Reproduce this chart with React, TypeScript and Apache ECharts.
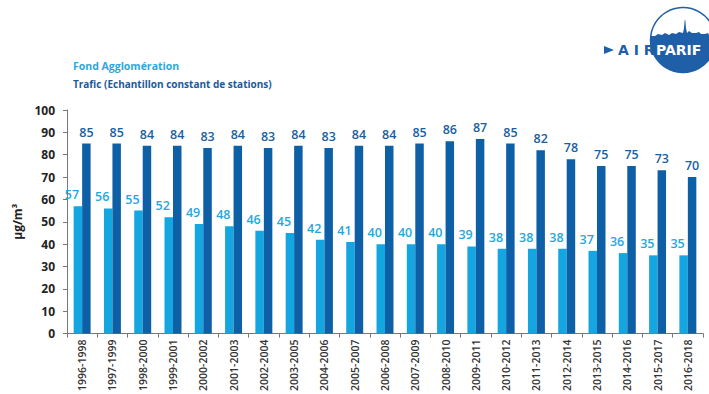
import React, { useEffect, useRef } from "react";
import * as echarts from "echarts";

const categories = [
  "1996-1998", "1997-1999", "1998-2000", "1999-2001", "2000-2002", "2001-2003", "2002-2004",
  "2003-2005", "2004-2006", "2005-2007", "2006-2008", "2007-2009", "2008-2010", "2009-2011",
  "2010-2012", "2011-2013", "2012-2014", "2013-2015", "2014-2016", "2015-2017", "2016-2018",
];
const fondValues = [57, 56, 55, 52, 49, 48, 46, 45, 42, 41, 40, 40, 40, 39, 38, 38, 38, 37, 36, 35, 35];
const traficValues = [85, 85, 84, 84, 83, 84, 83, 84, 83, 84, 84, 85, 86, 87, 85, 82, 78, 75, 75, 73, 70];
const seriesNames = ["Fond Agglomération", "Trafic (Echantillon constant de stations)"];

const LIGHT = "#14a6e0";
const DARK = "#0d5fa6";
const FONT = "'Open Sans', 'Noto Sans', sans-serif";

const blobPath =
  "M -32.76 -4 A 33 33 0 1 0 32.76 -4 L 30 -5 L 26 -5 L 25 -7 L 22 -6 L 18 -6 L 16 -8 L 13 -7 L 9 -7 L 6 -9 L 4 -7 L 3 -12 L 2.3 -20 L 1.7 -20 L 1 -12 L 0 -7 L -4 -8 L -7 -6 L -11 -7 L -14 -5 L -18 -7 L -21 -5 L -25 -6 L -28 -4 Z";

export default function App() {
  const ref = useRef<HTMLDivElement>(null);
  useEffect(() => {
    if (!ref.current) return;
    echarts.graphic.registerShape("blob", echarts.graphic.extendPath(blobPath as any, {}) as any);
    const chart = echarts.init(ref.current, null, { renderer: "svg" });
    chart.setOption({
      animation: false,
      backgroundColor: "#ffffff",
      grid: { left: 67, right: 6, top: 110, bottom: 57, containLabel: false },
      xAxis: {
        type: "category",
        data: categories,
        axisLine: { lineStyle: { color: "#777", width: 1 } },
        axisTick: { show: true, alignWithLabel: false, length: 4, lineStyle: { color: "#777" } },
        axisLabel: {
          rotate: 90,
          interval: 0,
          margin: 6,
          fontSize: 10.5,
          fontFamily: FONT,
          fontWeight: 600,
          color: "#333",
        },
      },
      yAxis: {
        type: "value",
        min: 0,
        max: 100,
        interval: 10,
        name: "µg/m³",
        nameLocation: "middle",
        nameGap: 30,
        nameRotate: 90,
        nameTextStyle: { fontSize: 12, fontWeight: "bold", fontFamily: FONT, color: "#222" },
        axisLine: { show: true, lineStyle: { color: "#777", width: 1 } },
        axisTick: { show: true, length: 4, lineStyle: { color: "#777" } },
        splitLine: { show: false },
        axisLabel: {
          margin: 12,
          fontSize: 12,
          fontWeight: "bold",
          fontFamily: FONT,
          color: "#222",
        },
      },
      series: [
        {
          name: seriesNames[0],
          type: "bar",
          data: fondValues,
          barGap: "0%",
          barCategoryGap: "44%",
          itemStyle: { color: LIGHT },
          label: {
            show: true,
            position: "top",
            offset: [-6, 0],
            color: "#1fa8e0",
            fontSize: 12.5,
            fontFamily: FONT,
            fontWeight: 600,
          },
        },
        {
          name: seriesNames[1],
          type: "bar",
          data: traficValues,
          itemStyle: { color: DARK },
          label: {
            show: true,
            position: "top",
            color: "#1b5f9f",
            fontSize: 12.5,
            fontFamily: FONT,
            fontWeight: 600,
          },
        },
      ],
      graphic: [
        {
          type: "text",
          left: 73,
          top: 60,
          style: { text: seriesNames[0], fill: "#2aa8e0", font: `bold 10.5px ${FONT}` },
        },
        {
          type: "text",
          left: 73,
          top: 79,
          style: { text: seriesNames[1], fill: "#1a5a9a", font: `bold 10px ${FONT}` },
        },
        {
          type: "group",
          x: 683,
          y: 40,
          children: [
            { type: "circle", shape: { cx: 0, cy: 0, r: 32.5 }, style: { fill: "#fff", stroke: "#1f5fa8", lineWidth: 1.5 } },
            { type: "blob", x: 0, y: 0, style: { fill: "#1f5fa8" } },
            {
              type: "text",
              x: -27,
              y: 10,
              style: { text: "PARIF", fill: "#fff", font: `bold 14px 'DejaVu Sans', sans-serif`, verticalAlign: "middle" },
            },
          ],
        },
        {
          type: "polygon",
          shape: { points: [[604, 46], [614, 50], [604, 54]] },
          style: { fill: "#1f5fa8" },
        },
        {
          type: "text",
          x: 618,
          y: 50,
          style: { text: "A I R", fill: "#1f5fa8", font: `bold 14px 'DejaVu Sans', sans-serif`, verticalAlign: "middle" },
        },
      ],
    });
    return () => chart.dispose();
  }, []);
  return <div ref={ref} style={{ width: 709, height: 394, position: "absolute", left: 0, top: 0 }} />;
}
